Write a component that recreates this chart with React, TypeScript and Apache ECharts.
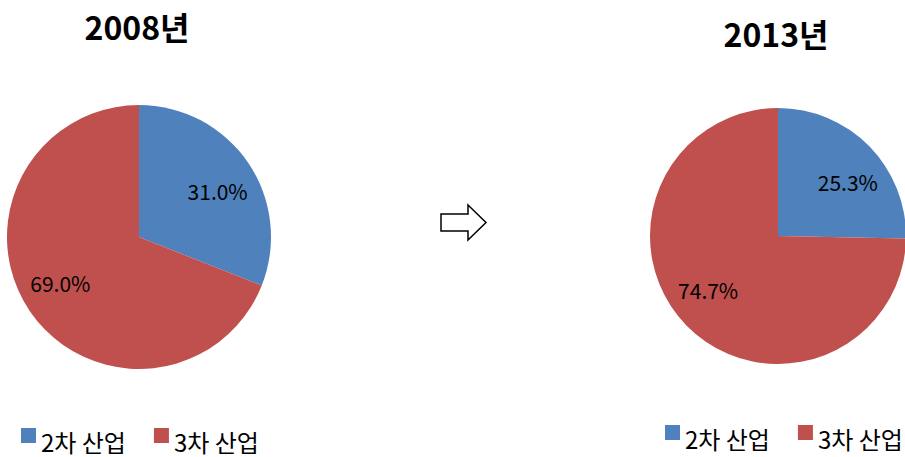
import React, { useEffect, useRef } from "react";
import * as echarts from "echarts";

const categories = ["2차 산업", "3차 산업"];
const values2008 = [31.0, 69.0];
const values2013 = [25.3, 74.7];
const titles = ["2008년", "2013년"];
const colors = ["#4F81BD", "#C0504D"];

const FONT = "'Noto Sans CJK KR', 'Noto Sans', sans-serif";
// square marker in the upper part of a taller icon box, so that the legend text sits lower
const LEGEND_ICON = "path://M0 0H15V15H0Z M0 26L0.01 26";

function pieData(vals: number[]) {
  return categories.map((name, i) => ({ name, value: vals[i], itemStyle: { color: colors[i] } }));
}

function labelRing(vals: number[], center: [number, number], r: number, start: number) {
  return {
    type: "pie",
    center,
    radius: [r - 0.5, r + 0.5],
    startAngle: start,
    clockwise: true,
    silent: true,
    data: categories.map((name, i) => ({ name, value: vals[i], itemStyle: { color: "rgba(0,0,0,0)" } })),
    label: {
      show: true,
      position: "inside",
      formatter: (p: any) => p.value.toFixed(1) + "%",
      fontFamily: FONT,
      fontSize: 21,
      color: "#000",
    },
    labelLine: { show: false },
    emphasis: { disabled: true },
  };
}

function legendFor(left: number, top: number) {
  return {
    left,
    top,
    padding: 0,
    orient: "horizontal",
    icon: LEGEND_ICON,
    itemWidth: 15,
    itemHeight: 26,
    itemGap: 28,
    selectedMode: false,
    data: categories.map((name, i) => ({
      name,
      itemStyle: { color: colors[i], borderWidth: 0 },
    })),
    textStyle: { fontFamily: FONT, fontSize: 24, lineHeight: 24, color: "#000" },
  };
}

export default function App() {
  const ref = useRef<HTMLDivElement>(null);
  useEffect(() => {
    if (!ref.current) return;
    const chart = echarts.init(ref.current, undefined, { renderer: "svg" });
    chart.setOption({
      animation: false,
      backgroundColor: "#fff",
      legend: [legendFor(21, 428), legendFor(665, 425)],
      graphic: [
        {
          type: "text",
          x: 137,
          y: 26,
          style: {
            text: titles[0],
            fontFamily: FONT,
            fontSize: 32,
            fontWeight: "bold",
            fill: "#000",
            align: "center",
            verticalAlign: "middle",
          },
        },
        {
          type: "text",
          x: 776,
          y: 33,
          style: {
            text: titles[1],
            fontFamily: FONT,
            fontSize: 32,
            fontWeight: "bold",
            fill: "#000",
            align: "center",
            verticalAlign: "middle",
          },
        },
        {
          type: "polygon",
          shape: {
            points: [
              [441, 214],
              [468, 214],
              [468, 205],
              [486, 222.5],
              [468, 240],
              [468, 231],
              [441, 231],
            ],
          },
          style: { fill: "#fff", stroke: "#000", lineWidth: 1.5 },
        },
      ],
      series: [
        {
          type: "pie",
          center: [139, 237],
          radius: [0, 132],
          startAngle: 90,
          clockwise: true,
          silent: true,
          data: pieData(values2008),
          label: { show: false },
          labelLine: { show: false },
          emphasis: { disabled: true },
        },
        {
          type: "pie",
          center: [778, 236],
          radius: [0, 128],
          startAngle: 90,
          clockwise: true,
          silent: true,
          data: pieData(values2013),
          label: { show: false },
          labelLine: { show: false },
          emphasis: { disabled: true },
        },
        labelRing(values2008, [139, 237], 88, 86),
        labelRing(values2013, [778, 236], 85, 83),
      ],
    });
    return () => chart.dispose();
  }, []);
  return (
    <div
      ref={ref}
      style={{ position: "fixed", left: 0, top: 0, width: 905, height: 457 }}
    />
  );
}
